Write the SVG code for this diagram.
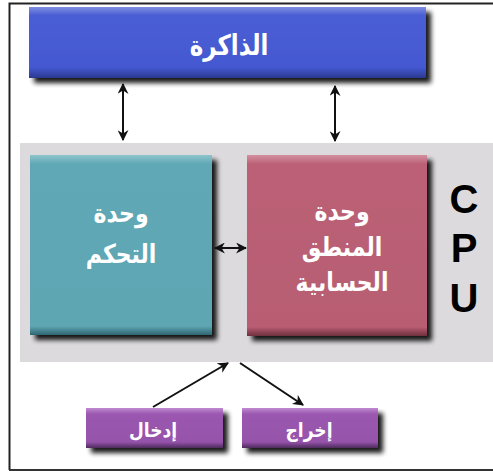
<svg xmlns="http://www.w3.org/2000/svg" width="493" height="471" viewBox="0 0 493 471">
<defs>
<filter id="sh" x="-10%" y="-10%" width="130%" height="140%">
<feGaussianBlur in="SourceAlpha" stdDeviation="2.5"/>
<feOffset dx="5" dy="5" result="b"/>
<feComponentTransfer><feFuncA type="linear" slope="0.9"/></feComponentTransfer>
<feMerge><feMergeNode/><feMergeNode in="SourceGraphic"/></feMerge>
</filter>
<linearGradient id="gBlue" x1="0" y1="0" x2="0" y2="1">
<stop offset="0" stop-color="#7f8ee0"/><stop offset="0.12" stop-color="#4a5dd4"/><stop offset="0.85" stop-color="#4459d1"/><stop offset="1" stop-color="#2a3890"/>
</linearGradient>
<linearGradient id="gTeal" x1="0" y1="0" x2="0" y2="1">
<stop offset="0" stop-color="#8cc4cc"/><stop offset="0.05" stop-color="#60a8b5"/><stop offset="0.95" stop-color="#5ea6b3"/><stop offset="1" stop-color="#2f6670"/>
</linearGradient>
<linearGradient id="gRose" x1="0" y1="0" x2="0" y2="1">
<stop offset="0" stop-color="#d490a0"/><stop offset="0.05" stop-color="#bb6176"/><stop offset="0.95" stop-color="#b85d72"/><stop offset="1" stop-color="#6e2f3e"/>
</linearGradient>
<linearGradient id="gPurp" x1="0" y1="0" x2="0" y2="1">
<stop offset="0" stop-color="#c08ad0"/><stop offset="0.15" stop-color="#9b58b0"/><stop offset="0.85" stop-color="#9553aa"/><stop offset="1" stop-color="#4e2a5c"/>
</linearGradient>
<marker id="ah" viewBox="0 0 10 10" refX="9" refY="5" markerWidth="5.5" markerHeight="5.5" orient="auto-start-reverse" markerUnits="strokeWidth">
<path d="M0,0 L10,5 L0,10 L3,5 z" fill="#111"/>
</marker>
</defs>
<style>
.ar{font-family:"DejaVu Sans","Noto Sans",sans-serif;font-weight:bold;fill:#fff;text-anchor:middle}
.cpu{font-family:"Liberation Sans",Arial,sans-serif;font-weight:bold;font-size:40px;fill:#000;text-anchor:middle}
.conn{stroke:#111;stroke-width:2;fill:none}
</style>
<rect width="493" height="471" fill="#fff"/>
<path d="M493,3.5 H9.5 V470" fill="none" stroke="#222" stroke-width="2"/>
<line x1="9" y1="470" x2="493" y2="470" stroke="#333" stroke-width="2"/>
<g id="cpu">
<rect x="20" y="143" width="473" height="219" fill="#dcdadd"/>
<text class="cpu" x="464" y="213">C</text>
<text class="cpu" x="464" y="262">P</text>
<text class="cpu" x="464" y="312">U</text>
</g>
<g id="memory">
<rect x="29" y="7" width="397" height="71" fill="url(#gBlue)" filter="url(#sh)"/>
<text class="ar" font-size="27" transform="translate(229,55) scale(0.85,1.05)">الذاكرة</text>
</g>
<g id="control">
<rect x="30" y="155" width="182" height="180" fill="url(#gTeal)" filter="url(#sh)"/>
<text class="ar" font-size="25" transform="translate(121,222) scale(0.88,1.05)">وحدة</text>
<text class="ar" font-size="25" transform="translate(121,263) scale(0.88,1.05)">التحكم</text>
</g>
<g id="alu">
<rect x="247" y="155" width="180" height="181" fill="url(#gRose)" filter="url(#sh)"/>
<text class="ar" font-size="25" transform="translate(342,220) scale(0.88,1.05)">وحدة</text>
<text class="ar" font-size="25" transform="translate(342,256) scale(0.88,1.05)">المنطق</text>
<text class="ar" font-size="25" transform="translate(342,291) scale(0.88,1.05)">الحسابية</text>
</g>
<g id="input">
<rect x="86" y="408" width="137" height="40" fill="url(#gPurp)" filter="url(#sh)"/>
<text class="ar" font-size="19" transform="translate(153,437) scale(0.9,1.05)">إدخال</text>
</g>
<g id="output">
<rect x="242" y="408" width="136" height="40" fill="url(#gPurp)" filter="url(#sh)"/>
<text class="ar" font-size="19" transform="translate(309,437) scale(0.9,1.05)">إخراج</text>
</g>
<g id="connectors">
<line class="conn" x1="123" y1="84" x2="123" y2="140" marker-start="url(#ah)" marker-end="url(#ah)"/>
<line class="conn" x1="335" y1="86" x2="335" y2="141" marker-start="url(#ah)" marker-end="url(#ah)"/>
<line class="conn" x1="215" y1="248" x2="246" y2="248" stroke-width="1.6" marker-start="url(#ah)" marker-end="url(#ah)"/>
<line class="conn" x1="153" y1="407" x2="228" y2="363" marker-end="url(#ah)"/>
<line class="conn" x1="240" y1="363" x2="303" y2="405" marker-end="url(#ah)"/>
</g>
</svg>
